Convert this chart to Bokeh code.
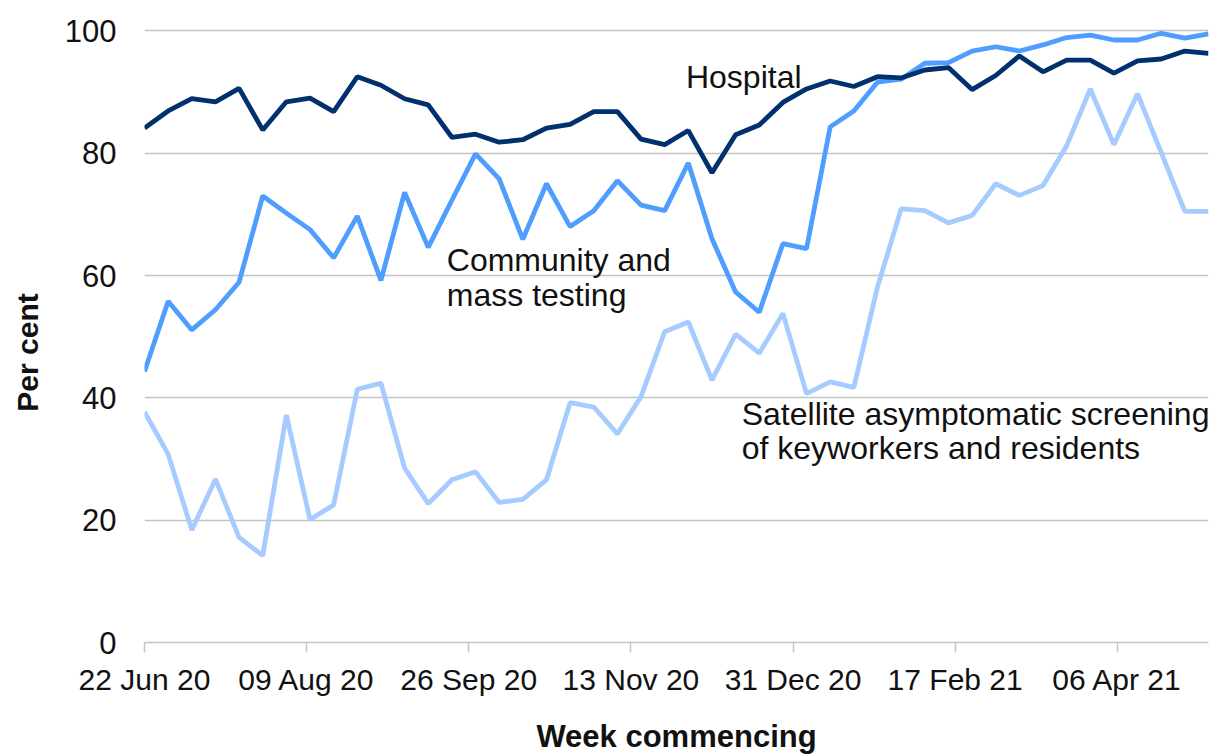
from bokeh.plotting import figure
from bokeh.models import Range1d, FixedTicker, Label
from bokeh.embed import file_html
from bokeh.resources import INLINE

# Week index (weekly from 22 Jun 20), plotted as days since 22 Jun 20
week_index = list(range(46))
days = [7 * w for w in week_index]

tick_days = [0, 48, 96, 144, 192, 240, 288]
tick_labels = ["22 Jun 20", "09 Aug 20", "26 Sep 20", "13 Nov 20",
               "31 Dec 20", "17 Feb 21", "06 Apr 21"]

hospital = [84.1, 86.9, 88.9, 88.4, 90.6, 83.8, 88.4, 89.0, 86.8, 92.5,
            91.1, 88.9, 87.9, 82.6, 83.1, 81.8, 82.2, 84.1, 84.7, 86.8,
            86.8, 82.3, 81.4, 83.7, 76.8, 83.0, 84.6, 88.3, 90.5, 91.8,
            90.9, 92.5, 92.3, 93.6, 94.0, 90.4, 92.7, 95.9, 93.3, 95.2,
            95.2, 93.1, 95.1, 95.4, 96.7, 96.3]

community = [44.3, 55.8, 51.1, 54.4, 58.9, 73.0, 70.2, 67.5, 62.9, 69.7,
             59.2, 73.6, 64.6, 72.3, 79.9, 75.8, 65.9, 75.0, 68.0, 70.6,
             75.5, 71.5, 70.6, 78.4, 66.0, 57.3, 54.0, 65.2, 64.4, 84.3,
             86.9, 91.6, 92.1, 94.7, 94.8, 96.7, 97.4, 96.7, 97.7, 98.9,
             99.3, 98.5, 98.5, 99.6, 98.8, 99.5]

satellite = [37.7, 30.8, 18.4, 26.7, 17.2, 14.2, 37.2, 20.1, 22.5, 41.4,
             42.4, 28.5, 22.7, 26.6, 27.9, 22.9, 23.4, 26.6, 39.2, 38.5,
             34.1, 40.2, 50.8, 52.4, 42.9, 50.4, 47.3, 53.8, 40.7, 42.6,
             41.7, 58.1, 70.9, 70.6, 68.6, 69.8, 75.0, 73.1, 74.7, 81.2,
             90.5, 81.4, 89.7, 80.1, 70.5, 70.5]

y_ticks = [0, 20, 40, 60, 80, 100]

FONT = "Liberation Sans"
C_HOSP = "#00306E"
C_COMM = "#4F9DFF"
C_SAT = "#A6CBFF"
GRID = "#C4C4C4"

p = figure(width=1211, height=756, output_backend="svg", toolbar_location=None,
           x_range=Range1d(0, 315), y_range=Range1d(0, 103),
           min_border_left=144, min_border_right=3, min_border_top=12,
           min_border_bottom=113)
p.outline_line_color = None
p.background_fill_color = "white"
p.border_fill_color = "white"

p.line(days, satellite, line_color=C_SAT, line_width=4.8)
p.line(days, community, line_color=C_COMM, line_width=4.8)
p.line(days, hospital, line_color=C_HOSP, line_width=4.8)

# axes
p.xaxis.ticker = FixedTicker(ticks=tick_days)
p.xaxis.major_label_overrides = {d: l for d, l in zip(tick_days, tick_labels)}
p.xaxis.axis_line_color = GRID
p.xaxis.axis_line_width = 1.5
p.xaxis.major_tick_line_color = GRID
p.xaxis.major_tick_line_width = 1.5
p.xaxis.major_tick_out = 10
p.xaxis.major_tick_in = 0
p.xaxis.minor_tick_line_color = None
p.xaxis.major_label_standoff = 10
p.xaxis.major_label_text_font = FONT
p.xaxis.major_label_text_font_size = "30px"
p.xaxis.major_label_text_color = "#111111"
p.xaxis.axis_label = "Week commencing"
p.xaxis.axis_label_text_font = FONT
p.xaxis.axis_label_text_font_style = "bold"
p.xaxis.axis_label_text_font_size = "31px"
p.xaxis.axis_label_text_color = "#111111"
p.xaxis.axis_label_standoff = 20

p.yaxis.ticker = FixedTicker(ticks=y_ticks)
p.yaxis.axis_line_color = None
p.yaxis.major_tick_line_color = None
p.yaxis.minor_tick_line_color = None
p.yaxis.major_tick_out = 0
p.yaxis.major_tick_in = 0
p.yaxis.major_label_standoff = 28
p.yaxis.major_label_text_font = FONT
p.yaxis.major_label_text_font_size = "31px"
p.yaxis.major_label_text_color = "#111111"
p.yaxis.axis_label = "Per cent" + "\u00a0" * 6
p.yaxis.axis_label_text_font = FONT
p.yaxis.axis_label_text_font_style = "bold"
p.yaxis.axis_label_text_font_size = "30px"
p.yaxis.axis_label_text_color = "#111111"
p.yaxis.axis_label_standoff = 18

p.xgrid.grid_line_color = None
p.ygrid.grid_line_color = GRID
p.ygrid.grid_line_width = 1.5

def add_label(x, y, text, size="32px"):
    p.add_layout(Label(x=x, y=y, text=text, text_font=FONT, text_font_size=size,
                       text_color="#111111", text_align="left",
                       text_baseline="alphabetic"))

add_label(160.3, 92.4, "Hospital")
add_label(89.5, 62.6, "Community and")
add_label(89.5, 56.8, "mass testing")
add_label(176.8, 37.4, "Satellite asymptomatic screening")
add_label(176.8, 31.8, "of keyworkers and residents")

open("out.html", "w").write(file_html(p, INLINE))
